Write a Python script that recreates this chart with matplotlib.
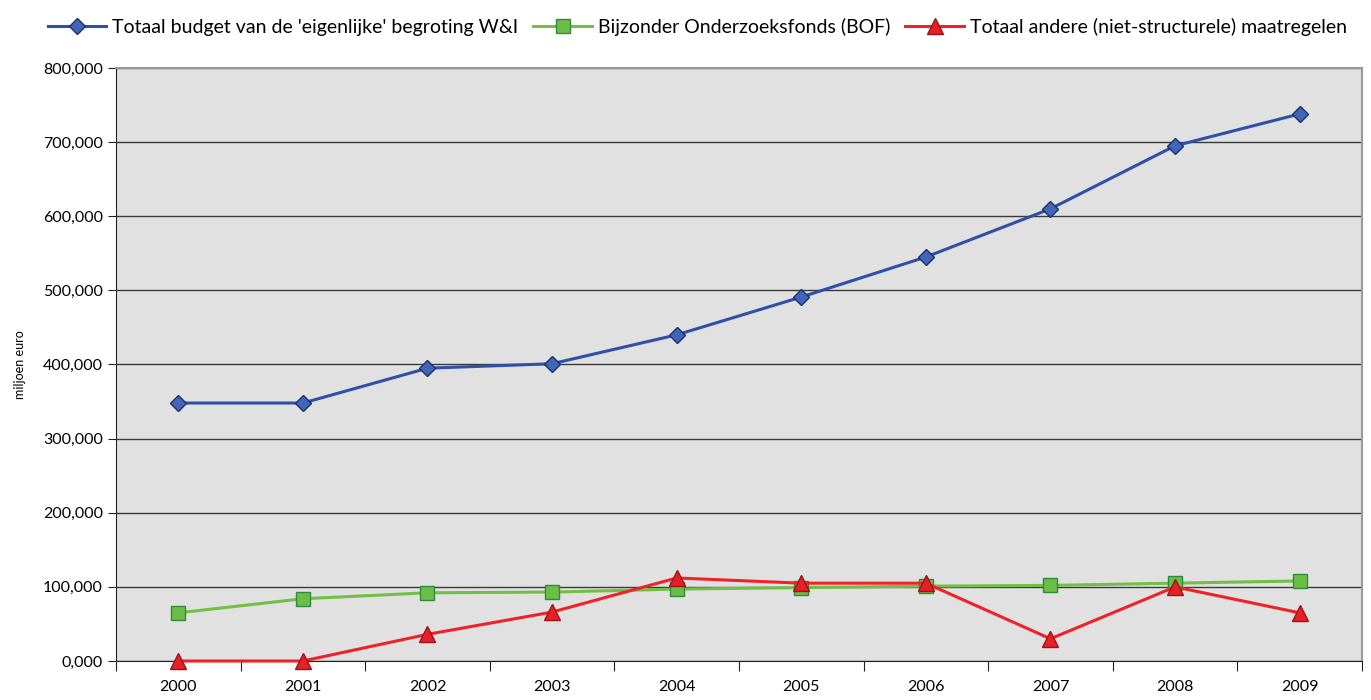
import matplotlib
matplotlib.use("Agg")
import matplotlib.pyplot as plt
from matplotlib.ticker import FuncFormatter, NullFormatter
import numpy as np

plt.rcParams['font.family'] = ['Lato', 'DejaVu Sans']

years = ['2000', '2001', '2002', '2003', '2004', '2005', '2006', '2007', '2008', '2009']
totaal_budget = [348, 348, 395, 401, 440, 491, 545, 610, 695, 738]
bof = [65, 84, 92, 93, 97, 99, 101, 102, 105, 108]
andere = [0, 0, 36, 66, 112, 105, 105, 30, 100, 65]
labels = ["Totaal budget van de 'eigenlijke' begroting W&I",
          "Bijzonder Onderzoeksfonds (BOF)",
          "Totaal andere (niet-structurele) maatregelen"]

fig = plt.figure(figsize=(13.71, 7.0), dpi=100)
ax = fig.add_axes([0.0846, 0.0557, 0.9088, 0.8472])
ax.set_facecolor('#e1e1e1')

x = np.arange(len(years))
ax.plot(x, np.array(totaal_budget) * 1000, color='#2f4fa8', lw=2.2, marker='D', ms=8,
        mfc='#4166b8', mec='#1f2f6e', mew=1, label=labels[0], zorder=4)
ax.plot(x, np.array(bof) * 1000, color='#72c043', lw=2.2, marker='s', ms=10,
        mfc='#6cbd45', mec='#2e8a3e', mew=1, label=labels[1], zorder=3)
ax.plot(x, np.array(andere) * 1000, color='#ee2228', lw=2.2, marker='^', ms=12,
        mfc='#e62026', mec='#9b1418', mew=1, label=labels[2], zorder=5, clip_on=False)

ax.set_xlim(-0.5, len(years) - 0.5)
ax.set_ylim(0, 800000)
ax.set_yticks(np.arange(0, 800001, 100000))
ax.yaxis.set_major_formatter(FuncFormatter(lambda v, p: '0,000' if v == 0 else f'{int(v):,}'))
ax.grid(axis='y', color='#3a3a3a', lw=1)
ax.set_axisbelow(True)

ax.set_xticks(np.arange(-0.5, len(years), 1))
ax.xaxis.set_major_formatter(NullFormatter())
ax.set_xticks(x, minor=True)
ax.set_xticklabels(years, minor=True)
ax.tick_params(axis='x', which='major', direction='out', length=7, color='#222222')
ax.tick_params(axis='x', which='minor', length=0, pad=14, labelsize=11.5)
ax.tick_params(axis='y', direction='out', length=6, labelsize=11.5, color='#222222')

for s in ['top', 'right']:
    ax.spines[s].set_color('#9a9a9a')
    ax.spines[s].set_linewidth(1.5)
ax.spines['left'].set_color('#222222')
ax.spines['bottom'].set_color('#222222')

ax.set_ylabel('miljoen euro', fontsize=9, labelpad=12)

fig.legend(loc='upper right', bbox_to_anchor=(0.995, 1.0), ncol=3, frameon=False,
           fontsize=14, handlelength=3.0, handletextpad=0.3, columnspacing=0.8)

fig.savefig('out.png', dpi=100)
